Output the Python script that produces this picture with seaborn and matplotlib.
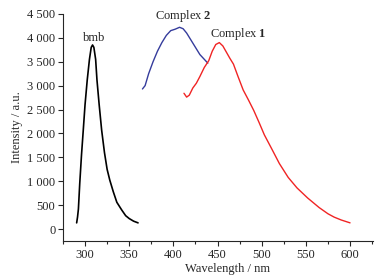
import numpy as np
import pandas as pd
import seaborn as sns
import matplotlib.pyplot as plt
from matplotlib.ticker import MultipleLocator, FuncFormatter

# Emission spectra
bmb_wl = [290.5, 291.5, 292.5, 294, 296, 298, 300, 302.5, 305, 307, 308.5, 310, 312, 313.5, 316, 318.8,
          322, 325, 328, 332, 336, 341.5, 346, 350, 355, 360]
bmb_int = [130, 250, 420, 950, 1550, 2070, 2600, 3120, 3550, 3800, 3850, 3800, 3550, 3120, 2600, 2070,
           1600, 1250, 1025, 780, 560, 400, 280, 220, 165, 130]

c2_wl = [365, 368, 372, 377, 382, 387, 392, 397, 402, 407, 411, 415, 420, 425, 430, 435, 439]
c2_int = [2930, 3000, 3250, 3500, 3720, 3900, 4050, 4150, 4180, 4220, 4190, 4100, 3950, 3800, 3650, 3550, 3470]

c1_wl = [412, 415, 418, 422, 426, 430, 435, 440, 444, 448, 452, 456, 460, 464, 468, 473, 479, 485, 491,
         497, 503, 511, 520, 530, 540, 552, 565, 575, 582, 590, 600]
c1_int = [2840, 2760, 2800, 2950, 3050, 3190, 3380, 3520, 3720, 3860, 3900, 3830, 3700, 3570, 3450, 3200,
          2910, 2700, 2480, 2230, 1970, 1690, 1370, 1080, 860, 650, 450, 320, 250, 190, 130]

y_ticks = [0, 500, 1000, 1500, 2000, 2500, 3000, 3500, 4000, 4500]
x_ticks = [300, 350, 400, 450, 500, 550, 600]

sns.set_style('ticks')
plt.rcParams['font.family'] = ['Liberation Serif', 'DejaVu Serif']
plt.rcParams['font.size'] = 9
plt.rcParams['mathtext.fontset'] = 'custom'
plt.rcParams['mathtext.rm'] = 'Liberation Serif'
plt.rcParams['mathtext.bf'] = 'Liberation Serif:bold'

fig = plt.figure(figsize=(3.91, 2.78), dpi=100)
ax = fig.add_axes([0.161, 0.133, 0.793, 0.817])

sns.lineplot(x=bmb_wl, y=bmb_int, color='black', lw=1.2, ax=ax)
sns.lineplot(x=c2_wl, y=c2_int, color='#353c9c', lw=1.0, ax=ax)
sns.lineplot(x=c1_wl, y=c1_int, color='#f02424', lw=1.0, ax=ax)

ax.text(310, 4000, 'bmb', ha='center', va='center', fontsize=9)
ax.text(411, 4460, 'Complex $\\mathbf{2}$', ha='center', va='center', fontsize=9)
ax.text(473, 4080, 'Complex $\\mathbf{1}$', ha='center', va='center', fontsize=9)

ax.set_xlim(275, 626)
ax.set_ylim(-250, 4500)
ax.set_xticks(x_ticks)
ax.set_yticks(y_ticks)
ax.xaxis.set_minor_locator(MultipleLocator(25))
ax.yaxis.set_major_formatter(FuncFormatter(lambda v, p: f'{int(v):,}'.replace(',', ' ')))
ax.tick_params(axis='both', which='major', length=3.5, width=0.8, labelsize=9, pad=2)
ax.tick_params(axis='x', which='minor', length=2, width=0.8)
sns.despine(ax=ax)
for s in ['left', 'bottom']:
    ax.spines[s].set_linewidth(0.8)

ax.set_xlabel('Wavelength / nm', fontsize=9, labelpad=2)
ax.xaxis.set_label_coords(0.53, -0.095)
ax.set_ylabel('Intensity / a.u.', fontsize=9, labelpad=3)

fig.savefig('out.png', dpi=100)
